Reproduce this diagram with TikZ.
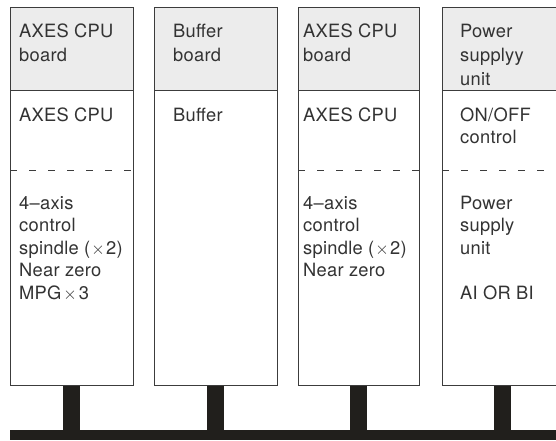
\documentclass[tikz,border=0pt]{standalone}
\usepackage{fontspec}
\setmainfont{TeX Gyre Heros}[LetterSpace=1.5]
\definecolor{linec}{HTML}{3C3C3C}
\definecolor{hdr}{HTML}{ECECEC}
\definecolor{busc}{HTML}{211F1C}
\definecolor{txc}{HTML}{333333}
\newcommand{\tms}{\ensuremath{\times}}
\begin{document}
\begin{tikzpicture}[x=1pt,y=-1pt,
  board/.style={draw=linec, line width=0.9pt, fill=white, inner sep=0pt, minimum height=378pt, anchor=north west},
  header/.style={draw=linec, line width=0.9pt, fill=hdr, inner sep=0pt, minimum height=83pt, anchor=north west},
  sep/.style={draw=linec, line width=0.8pt, dash pattern=on 7pt off 12pt},
  stem/.style={draw=busc, line width=17pt},
  bus/.style={fill=busc, inner sep=0pt, minimum height=10pt, minimum width=560pt, anchor=north west},
  tx/.style={anchor=base west, inner sep=0pt, text=txc, font=\fontsize{18.3}{21}\selectfont}]
\useasboundingbox (0,0) rectangle (556,440);
% bus
\node[bus] (bus) at (10,430) {};
% boards
\node[board, minimum width=123pt] (b1) at (10,7) {};
\node[board, minimum width=123pt] (b2) at (154,7) {};
\node[board, minimum width=121pt] (b3) at (298,7) {};
\node[board, minimum width=121pt] (b4) at (442,7) {};
% headers
\node[header, minimum width=123pt] (h1) at (10,7) {};
\node[header, minimum width=123pt] (h2) at (154,7) {};
\node[header, minimum width=121pt] (h3) at (298,7) {};
\node[header, minimum width=121pt] (h4) at (442,7) {};
% dashed separators
\draw[sep] (b1.west |- 0,170) -- (b1.east |- 0,170);
\draw[sep] (b3.west |- 0,170) -- (b3.east |- 0,170);
\draw[sep] (b4.west |- 0,170) -- (b4.east |- 0,170);
% stems
\foreach \b in {b1,b2,b3,b4}
  \draw[stem] (\b.south) -- (\b.south |- bus.north);
% header texts
\foreach \s [count=\i] in {AXES CPU, board}
  \node[tx] (h1l\i) at (19,{37+24*(\i-1)}) {\s};
\foreach \s [count=\i] in {Buffer, board}
  \node[tx] (h2l\i) at (173,{37+24*(\i-1)}) {\s};
\foreach \s [count=\i] in {AXES CPU, board}
  \node[tx] (h3l\i) at (303,{37+24*(\i-1)}) {\s};
\foreach \s [count=\i] in {Power, supplyy, unit}
  \node[tx] (h4l\i) at (460,{37+24*(\i-1)}) {\s};
% upper body texts
\node[tx] (u1) at (19,121) {AXES CPU};
\node[tx] (u2) at (173,121) {Buffer};
\node[tx] (u3) at (303,121) {AXES CPU};
\foreach \s [count=\i] in {ON/OFF, control}
  \node[tx] (u4l\i) at (460,{121+22.5*(\i-1)}) {\s};
% lower body texts
\foreach \s [count=\i] in {4–axis, control, spindle (\kern1pt\tms\kern1.5pt2), Near zero, MPG\kern2pt\tms\kern2pt3}
  \node[tx] (l1l\i) at (19,{209+22.5*(\i-1)}) {\s};
\foreach \s [count=\i] in {4–axis, control, spindle (\kern1pt\tms\kern1.5pt2), Near zero}
  \node[tx] (l3l\i) at (303,{209+22.5*(\i-1)}) {\s};
\foreach \s [count=\i] in {Power, supply, unit}
  \node[tx] (l4l\i) at (460,{209+22.5*(\i-1)}) {\s};
\node[tx] (l4l5) at (460,299) {AI OR BI};
\end{tikzpicture}
\end{document}
